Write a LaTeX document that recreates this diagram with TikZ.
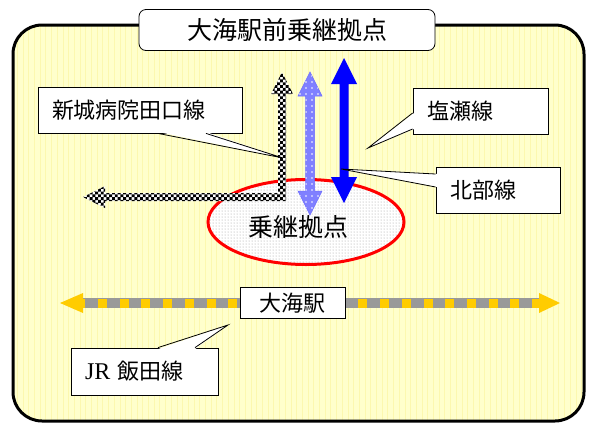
\documentclass[tikz,border=0pt]{standalone}
\usepackage{fontspec}
\setmainfont{Liberation Serif}
\newfontfamily\jpfont{Noto Sans CJK JP}
\usetikzlibrary{patterns,shapes.geometric}

\definecolor{paleyellow}{RGB}{255,255,204}
\definecolor{gridyellow}{RGB}{252,248,175}
\definecolor{railgray}{RGB}{153,153,153}
\definecolor{railyellow}{RGB}{255,204,0}
\definecolor{lightblue}{RGB}{128,128,255}

\pgfdeclarepatternformonly{bigchecker}{\pgfqpoint{-.1pt}{-.1pt}}{\pgfqpoint{5.7pt}{5.7pt}}{\pgfqpoint{5.6pt}{5.6pt}}{%
  \pgfpathrectangle{\pgfqpoint{0pt}{0pt}}{\pgfqpoint{2.9pt}{2.9pt}}%
  \pgfpathrectangle{\pgfqpoint{2.8pt}{2.8pt}}{\pgfqpoint{2.9pt}{2.9pt}}%
  \pgfusepath{fill}}
\pgfdeclarepatternformonly{sparsedots}{\pgfqpoint{-1pt}{-1pt}}{\pgfqpoint{1pt}{1pt}}{\pgfqpoint{6pt}{6pt}}{%
  \pgfpathcircle{\pgfqpoint{0pt}{0pt}}{0.8pt}%
  \pgfusepath{fill}}

\begin{document}
\begin{tikzpicture}[x=1pt,y=-1pt,
  callbox/.style={draw,fill=white,line width=0.8pt,inner xsep=14,inner ysep=0,
    minimum height=46,align=left,font=\jpfont\fontsize{22}{22}\selectfont},
  tipfill/.style={fill=white},
  tipline/.style={line width=0.8pt,line join=miter}]
\useasboundingbox (0,0) rectangle (595,424);

% area
\begin{scope}
\clip[rounded corners=29] (13,25) rectangle (584,421);
\fill[paleyellow] (0,0) rectangle (595,424);
\draw[gridyellow,line width=0.4,step=5.7] (13,25) grid (584,421);
\end{scope}
\draw[line width=3,rounded corners=29] (13,25) rectangle (584,421);

\node[draw,fill=white,line width=0.8pt,rounded corners=7,minimum width=296,minimum height=41,
  inner sep=0,font=\jpfont\fontsize{25}{25}\selectfont] (title) at (287,30) {大海駅前乗継拠点};

\node[callbox,text width=176] (shinshiro) at (140,110) {新城病院田口線};
\node[callbox,text width=107] (shiose) at (480.5,111) {塩瀬線};
\node[callbox,text width=96] (hokubu) at (498,190) {北部線};

\node[ellipse,draw=red,line width=3,minimum width=196,minimum height=85,inner sep=0,
  pattern=dots,pattern color=black!40,preaction={fill=white}] (hub) at (306,222) {};
\node[inner sep=0,font=\jpfont\fontsize{25}{25}\selectfont] (hublabel) at ([xshift=-8,yshift=-5]hub.center) {乗継拠点};

% routes
\fill[pattern=bigchecker,preaction={fill=white}] (282,72) -- (293,94) -- (286,94) -- (286,201)
  -- (105,201) -- (105,208) -- (83,197) -- (105,186) -- (105,193) -- (278,193) -- (278,94)
  -- (271,94) -- cycle;
\filldraw[fill=lightblue,draw=lightblue!85!blue,line width=0.5,postaction={pattern=sparsedots,pattern color=white}]
  (310,72) -- (322,96) -- (314.5,96) -- (314.5,191) -- (322,191) -- (310,215) -- (298,191)
  -- (305.5,191) -- (305.5,96) -- (298,96) -- cycle;
\fill[blue] (344,58) -- (357,84) -- (348.5,84) -- (348.5,177) -- (357,177) -- (344,203)
  -- (331,177) -- (339.5,177) -- (339.5,84) -- (331,84) -- cycle;

% callout pointers
\coordinate (shinshirotip) at (283,158);
\coordinate (shiosetip) at (368,148);
\coordinate (hokubutip) at (341,169);
\fill[tipfill] ([xshift=18,yshift=1.5]shinshiro.south) -- (shinshirotip) -- ([xshift=66,yshift=1.5]shinshiro.south) -- cycle;
\draw[tipline] ([xshift=18]shinshiro.south) -- (shinshirotip) -- ([xshift=66]shinshiro.south);
\fill[tipfill] ([xshift=1.5,yshift=-2]shiose.west) -- (shiosetip) -- ([xshift=1.5,yshift=-18]shiose.west) -- cycle;
\draw[tipline] ([yshift=-2]shiose.west) -- (shiosetip) -- ([yshift=-18]shiose.west);
\fill[tipfill] ([xshift=1.5,yshift=16]hokubu.west) -- (hokubutip) -- ([xshift=1.5,yshift=3]hokubu.west) -- cycle;
\draw[tipline] ([yshift=16]hokubu.west) -- (hokubutip) -- ([yshift=3]hokubu.west);

% JR line
\coordinate (railwest) at (83,303);
\coordinate (raileast) at (539,303);
\draw[railgray,line width=10] (railwest) -- (raileast);
\draw[railyellow,line width=9,dash pattern=on 9 off 12.7,dash phase=6.7] (railwest) -- (raileast);
\fill[railyellow] (60,303) -- ([yshift=10]railwest) -- ([yshift=-10]railwest) -- cycle;
\fill[railyellow] (560,303) -- ([yshift=10]raileast) -- ([yshift=-10]raileast) -- cycle;
\node[draw,fill=white,line width=0.8pt,minimum width=105,minimum height=31,inner sep=0,
  font=\jpfont\fontsize{22}{22}\selectfont] (oumi) at (292.5,303) {大海駅};

\node[callbox,text width=119,minimum height=47] (iida) at (144.5,371.5) {{\rmfamily\fontsize{24}{24}\selectfont JR} 飯田線};
\coordinate (iidatip) at (228,325);
\fill[tipfill] ([xshift=13.5,yshift=-1.5]iida.north) -- (iidatip) -- ([xshift=50.5,yshift=-1.5]iida.north) -- cycle;
\draw[tipline] ([xshift=13.5]iida.north) -- (iidatip) -- ([xshift=50.5]iida.north);
\end{tikzpicture}
\end{document}
